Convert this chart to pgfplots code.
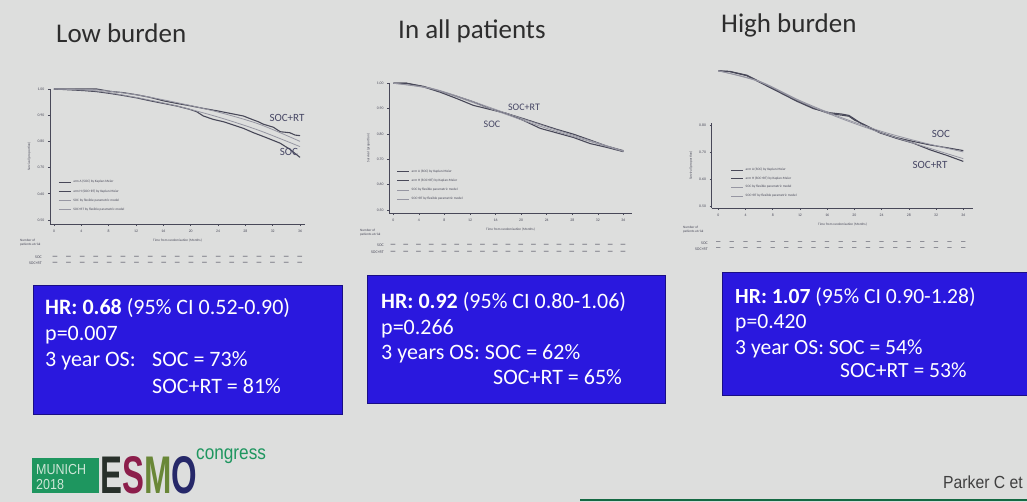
\documentclass[border=0pt]{standalone}
\usepackage{pgfplots}
\pgfplotsset{compat=1.18}
\usepackage{fontspec}
\setmainfont{Carlito}
\newfontfamily\arialfont{Liberation Sans}
\newfontfamily\esmofont[FakeStretch=0.62]{Liberation Sans}
\newfontfamily\narrowfont[FakeStretch=0.86]{Liberation Sans}
\newfontfamily\parkerfont[FakeStretch=0.9]{Liberation Sans}
\definecolor{bg}{RGB}{221,222,221}
\definecolor{boxblue}{RGB}{42,24,222}
\definecolor{kmdark}{RGB}{72,72,88}
\definecolor{kmlight}{RGB}{150,150,162}
\definecolor{titlecol}{RGB}{45,45,45}
\definecolor{labcol}{RGB}{70,70,100}
\definecolor{esmogreen}{RGB}{30,150,95}
\definecolor{esmoE}{RGB}{40,48,42}
\definecolor{esmoS}{RGB}{140,30,75}
\definecolor{esmoM}{RGB}{105,135,55}
\definecolor{esmoO}{RGB}{38,40,105}
\definecolor{munich}{RGB}{205,230,215}

\pgfplotsset{kmaxis/.style={
  scale only axis, clip=false,
  axis x line=bottom, axis y line=left,
  axis line style={-, kmdark, line width=0.7pt},
  tick style={kmdark, line width=0.6pt},
  tick align=outside, major tick length=2.2pt,
  xtick={0,4,...,36},
  ticklabel style={font=\fontsize{3.8}{4}\selectfont, text=kmdark},
  /pgf/number format/assume math mode=true,
  yticklabel style={/pgf/number format/fixed, /pgf/number format/precision=2, /pgf/number format/fixed zerofill},
  label style={font=\fontsize{3.4}{4}\selectfont, text=kmdark},
  xlabel={Time from randomisation (Months)},
  ylabel={Survival (proportion)},
  legend style={draw=none, fill=none, font=\fontsize{3.4}{5}\selectfont, text=kmdark, anchor=south west, row sep=1.2pt},
  legend cell align=left,
  legend image code/.code={\draw[##1] (0pt,0pt)--(12pt,0pt);},
  km/.style={kmdark, line width=1.1pt, line join=round},
  fpm/.style={kmlight, line width=0.8pt, smooth},
}}

\begin{document}
\begin{tikzpicture}
\fill[bg] (0,0) rectangle (1027pt,502pt);
\useasboundingbox (0,0) rectangle (1027pt,502pt);

% ---------------- Panel 1: Low burden ----------------
\begin{axis}[kmaxis, at={(50pt,278pt)}, anchor=south west,
  width=255pt, height=135pt, xmin=-0.585, xmax=36.73, ymin=0.4847, ymax=1.0,
  ytick={0.5,0.6,...,1.0},
  legend style={at={(0.02,0.06)}}]
\addplot[km] coordinates {(0,1.0) (4.3,0.994) (6.24,0.99) (8.2,0.983) (10.15,0.975) (12.1,0.966) (14.05,0.955) (16.0,0.945) (17.95,0.935) (19.9,0.922) (20.9,0.913) (21.85,0.897) (23.3,0.884) (24.8,0.875) (26.2,0.863) (27.7,0.85) (29.2,0.833) (31.1,0.814) (33.1,0.793) (34.5,0.770) (36,0.739)};
\addlegendentry{arm A (SOC) by Kaplan-Meier}
\addplot[km] coordinates {(0,1.0) (6.24,1.0) (8.2,0.991) (10.15,0.986) (12.1,0.978) (14.05,0.968) (16.0,0.955) (17.95,0.945) (19.9,0.936) (21.85,0.926) (23.8,0.917) (25.76,0.907) (27.7,0.897) (29.17,0.882) (29.9,0.875) (30.6,0.866) (32.1,0.854) (33.1,0.837) (34.5,0.833) (35.3,0.824) (36,0.822)};
\addlegendentry{arm H (SOC+RT) by Kaplan-Meier}
\addplot[fpm] coordinates {(0,1.0) (6,0.993) (12,0.968) (18,0.935) (24,0.893) (30,0.842) (36,0.78)};
\addlegendentry{SOC by flexible parametric model}
\addplot[fpm] coordinates {(0,1.0) (6,0.997) (12,0.978) (18,0.948) (24,0.912) (30,0.866) (36,0.80)};
\addlegendentry{SOC+RT by flexible parametric model}
\end{axis}

% ---------------- Panel 2: In all patients ----------------
\begin{axis}[kmaxis, at={(389.3pt,289pt)}, anchor=south west,
  width=242.4pt, height=129.7pt, xmin=-0.63, xmax=37.3, ymin=0.488, ymax=1.0,
  ytick={0.5,0.6,...,1.0},
  legend style={at={(0.017,0.06)}}]
\addplot[km] coordinates {(0,1.0) (2.1,1.0) (4.7,0.986) (7.3,0.965) (9.9,0.94) (12.5,0.913) (14.6,0.90) (17.7,0.881) (20.3,0.854) (23,0.822) (25.6,0.804) (28.2,0.786) (30.8,0.762) (33.4,0.747) (36,0.73)};
\addlegendentry{arm A (SOC) by Kaplan-Meier}
\addplot[km] coordinates {(0,1.0) (2.1,1.0) (4.7,0.988) (7.3,0.969) (9.9,0.949) (12.5,0.927) (15.1,0.90) (17.7,0.881) (20.3,0.861) (23,0.839) (25.6,0.818) (28.2,0.799) (30.8,0.776) (33.4,0.752) (36,0.734)};
\addlegendentry{arm H (SOC+RT) by Kaplan-Meier}
\addplot[fpm] coordinates {(0,1.0) (6,0.978) (12,0.928) (18,0.874) (24,0.822) (30,0.776) (36,0.731)};
\addlegendentry{SOC by flexible parametric model}
\addplot[fpm] coordinates {(0,1.0) (6,0.980) (12,0.932) (18,0.879) (24,0.828) (30,0.780) (36,0.733)};
\addlegendentry{SOC+RT by flexible parametric model}
\end{axis}

% ---------------- Panel 3: High burden ----------------
\begin{axis}[kmaxis, at={(711.7pt,294pt)}, anchor=south west,
  width=261.6pt, height=84.7pt, xmin=-0.97, xmax=37.47, ymin=0.4926, ymax=0.806,
  ytick={0.5,0.6,0.7,0.8},
  legend style={at={(0.06,0.07)}, row sep=0.6pt}]
\addplot[km] coordinates {(0,1.0) (1.7,0.998) (4.2,0.984) (6.6,0.953) (9.1,0.922) (11.5,0.891) (14,0.862) (16.4,0.841) (18.2,0.836) (19.2,0.832) (20,0.818) (21.3,0.803) (23.8,0.772) (26.2,0.753) (28.6,0.739) (31.1,0.726) (33.5,0.716) (36,0.705)};
\addlegendentry{arm A (SOC) by Kaplan-Meier}
\addplot[km] coordinates {(0,1.0) (1.7,0.997) (4.2,0.982) (6.6,0.951) (9.1,0.919) (11.5,0.888) (14,0.860) (16.4,0.845) (18.2,0.840) (19.2,0.835) (20,0.822) (21.3,0.800) (23.8,0.770) (26.2,0.750) (28.6,0.733) (31.1,0.708) (33.5,0.688) (36,0.665)};
\addlegendentry{arm H (SOC+RT) by Kaplan-Meier}
\addplot[fpm] coordinates {(0,1.0) (6,0.962) (12,0.890) (18,0.828) (24,0.776) (30,0.735) (36,0.700)};
\addlegendentry{SOC by flexible parametric model}
\addplot[fpm] coordinates {(0,1.0) (6,0.960) (12,0.887) (18,0.824) (24,0.770) (30,0.722) (36,0.675)};
\addlegendentry{SOC+RT by flexible parametric model}
\end{axis}

% ---------------- Overlay (image pixel coordinates, y downward) ----------------
\begin{scope}[x=1pt, y=-1pt, yshift=502pt]
  % titles
  \node[anchor=base west, inner sep=0, text=titlecol, font=\fontsize{27}{30}\selectfont] at (56,42.3) {Low burden};
  \node[anchor=base west, inner sep=0, text=titlecol, font=\fontsize{27}{30}\selectfont] at (398,38.3) {In all patients};
  \node[anchor=base west, inner sep=0, text=titlecol, font=\fontsize{27}{30}\selectfont] at (721,32.3) {High burden};

  % curve labels
  \node[text=labcol, font=\fontsize{11}{12}\selectfont] at (287,118) {SOC+RT};
  \node[text=labcol, font=\fontsize{11}{12}\selectfont] at (289,152) {SOC};
  \node[text=labcol, font=\fontsize{10}{12}\selectfont] at (524,107) {SOC+RT};
  \node[text=labcol, font=\fontsize{10}{12}\selectfont] at (492,124) {SOC};
  \node[text=labcol, font=\fontsize{11}{12}\selectfont] at (941,134) {SOC};
  \node[text=labcol, font=\fontsize{11}{12}\selectfont] at (930,165) {SOC+RT};

  % number at risk (illegible in the reference)
  \node[anchor=west, inner sep=0, align=left, text=kmdark, font=\fontsize{3.4}{3.9}\selectfont] at (20,243) {Number of\\patients at risk};
  \node[anchor=east, inner sep=0, text=kmdark, font=\fontsize{4}{4}\selectfont] at (42,257) {SOC};
  \node[anchor=east, inner sep=0, text=kmdark, font=\fontsize{4}{4}\selectfont] at (42,263) {SOC+RT};
  \foreach \i in {0,...,18} {
    \node[inner sep=0, text=kmdark, font=\bfseries\fontsize{6.5}{6.5}\selectfont] at ({55+\i*13.6},257) {---};
    \node[inner sep=0, text=kmdark, font=\bfseries\fontsize{6.5}{6.5}\selectfont] at ({55+\i*13.6},263) {---};
  }
  \node[anchor=west, inner sep=0, align=left, text=kmdark, font=\fontsize{3.4}{3.9}\selectfont] at (360,233) {Number of\\patients at risk};
  \node[anchor=east, inner sep=0, text=kmdark, font=\fontsize{4}{4}\selectfont] at (384,245) {SOC};
  \node[anchor=east, inner sep=0, text=kmdark, font=\fontsize{4}{4}\selectfont] at (384,252) {SOC+RT};
  \foreach \i in {0,...,18} {
    \node[inner sep=0, text=kmdark, font=\bfseries\fontsize{6.5}{6.5}\selectfont] at ({393+\i*12.78},245) {---};
    \node[inner sep=0, text=kmdark, font=\bfseries\fontsize{6.5}{6.5}\selectfont] at ({393+\i*12.78},252) {---};
  }
  \node[anchor=west, inner sep=0, align=left, text=kmdark, font=\fontsize{3.4}{3.9}\selectfont] at (683,230) {Number of\\patients at risk};
  \node[anchor=east, inner sep=0, text=kmdark, font=\fontsize{4}{4}\selectfont] at (708,243) {SOC};
  \node[anchor=east, inner sep=0, text=kmdark, font=\fontsize{4}{4}\selectfont] at (708,249) {SOC+RT};
  \foreach \i in {0,...,18} {
    \node[inner sep=0, text=kmdark, font=\bfseries\fontsize{6}{6}\selectfont] at ({718.3+\i*13.61},243) {---};
    \node[inner sep=0, text=kmdark, font=\bfseries\fontsize{6}{6}\selectfont] at ({718.3+\i*13.61},249) {---};
  }

  % result boxes
  \fill[boxblue] (33,285) rectangle (342,414);
  \draw[boxblue!60!black, line width=0.8pt] (33,285) rectangle (342,414);
  \fill[boxblue] (367,275) rectangle (665,403);
  \draw[boxblue!60!black, line width=0.8pt] (367,275) rectangle (665,403);
  \fill[boxblue] (722,272) rectangle (1027,395);
  \draw[boxblue!60!black, line width=0.8pt] (722,272) rectangle (1027,395);

  \begin{scope}[every node/.style={anchor=base west, inner sep=0, text=white, font=\fontsize{22}{26}\selectfont}]
    \node at (45,315) {\textbf{HR: 0.68} (95\% CI 0.52-0.90)};
    \node at (45,341) {p=0.007};
    \node at (45,367) {3 year OS:};
    \node at (152,367) {SOC = 73\%};
    \node at (152,394) {SOC+RT = 81\%};

    \node at (381,309) {\textbf{HR: 0.92} (95\% CI 0.80-1.06)};
    \node at (381,335) {p=0.266};
    \node at (381,360) {3 years OS: SOC = 62\%};
    \node at (493,385) {SOC+RT = 65\%};
  \end{scope}
  \begin{scope}[every node/.style={anchor=base west, inner sep=0, text=white, font=\fontsize{21.6}{26}\selectfont}]
    \node at (735,304) {\textbf{HR: 1.07} (95\% CI 0.90-1.28)};
    \node at (735,329) {p=0.420};
    \node at (735,355) {3 year OS: SOC = 54\%};
    \node at (840,378) {SOC+RT = 53\%};
  \end{scope}

  % footer
  \fill[esmogreen] (32,458) rectangle (99,493);
  \node[anchor=base west, inner sep=0, text=munich, font=\narrowfont\fontsize{14.5}{15}\selectfont] at (36,474.5) {MUNICH};
  \node[anchor=base west, inner sep=0, text=munich, font=\narrowfont\fontsize{14.5}{15}\selectfont] at (36,490) {2018};
  \begin{scope}[every node/.style={anchor=base west, inner sep=0, font=\esmofont\bfseries\fontsize{53}{53}\selectfont}]
    \node[text=esmoE] at (100,494) {E};
    \node[text=esmoS] at (121.9,494) {S};
    \node[text=esmoM] at (143.8,494) {M};
    \node[text=esmoO] at (171.2,494) {O};
  \end{scope}
  \node[anchor=base west, inner sep=0, text=esmogreen, font=\narrowfont\fontsize{20}{22}\selectfont] at (196,460) {congress};
  \node[anchor=base west, inner sep=0, text=black!75, font=\parkerfont\fontsize{17.5}{18}\selectfont] at (943,488.3) {Parker C et};
  \draw[esmogreen!70!black, line width=2pt] (580,500.5) -- (1027,500.5);
\end{scope}
\end{tikzpicture}
\end{document}
